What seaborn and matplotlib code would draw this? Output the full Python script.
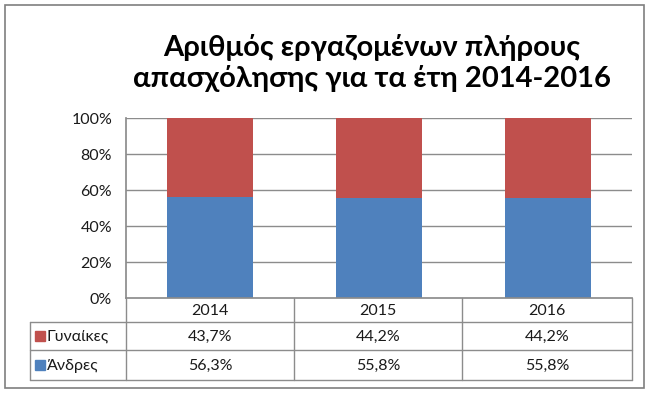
import matplotlib
matplotlib.use("Agg")
import matplotlib.pyplot as plt
import seaborn as sns
import pandas as pd
from matplotlib.lines import Line2D
from matplotlib.patches import Rectangle

years = ["2014", "2015", "2016"]
women = [43.7, 44.2, 44.2]
men = [56.3, 55.8, 55.8]
series_names = ["Γυναίκες", "Άνδρες"]
title = "Αριθμός εργαζομένων πλήρους\nαπασχόλησης για τα έτη 2014-2016"
yticks = [0, 20, 40, 60, 80, 100]

RED = "#C0504D"
BLUE = "#4F81BD"
GRID = "#8C8C8C"

sns.set_theme(style="white")
plt.rcParams['font.family'] = ['Lato', 'DejaVu Sans']

W, H = 656, 395
fig = plt.figure(figsize=(W / 100, H / 100), dpi=100)

def fx(x):
    return x / W

def fy(y):
    return 1 - y / H

L, R, T, B = 126, 632, 118, 298
ax = fig.add_axes([fx(L), fy(B), fx(R) - fx(L), fy(T) - fy(B)])

df = pd.DataFrame({"year": years, "men": men,
                   "total": [m + w for m, w in zip(men, women)]})
sns.barplot(data=df, x="year", y="total", color=RED, saturation=1,
            width=0.51, ax=ax, linewidth=0)
sns.barplot(data=df, x="year", y="men", color=BLUE, saturation=1,
            width=0.51, ax=ax, linewidth=0)

ax.set_ylim(0, 100)
ax.set_xlim(-0.5, 2.5)
ax.set_yticks(yticks)
ax.set_yticklabels([f"{v}%" for v in yticks], fontsize=11.5, color="#1a1a1a")
ax.set_xticks([])
ax.set_xlabel("")
ax.set_ylabel("")
for v in yticks[1:]:
    ax.axhline(v, color=GRID, lw=1, zorder=0)
ax.set_axisbelow(True)
for s in ["top", "right"]:
    ax.spines[s].set_visible(False)
ax.spines["left"].set_color(GRID)
ax.spines["bottom"].set_color(GRID)
ax.tick_params(axis="y", length=0, pad=10)

# Table
cols = [126, 294, 462, 632]
rows = [298, 322, 350, 380]
left_edge = 30

def hline(y, x0, x1):
    fig.add_artist(Line2D([fx(x0), fx(x1)], [fy(y), fy(y)], color=GRID, lw=1))

def vline(x, y0, y1):
    fig.add_artist(Line2D([fx(x), fx(x)], [fy(y0), fy(y1)], color=GRID, lw=1))

hline(rows[1], left_edge, cols[-1])
hline(rows[2], left_edge, cols[-1])
hline(rows[3], left_edge, cols[-1])
for c in cols:
    vline(c, rows[0], rows[3])
vline(left_edge, rows[1], rows[3])

TS = 11.5
for i, yr in enumerate(years):
    cx = (cols[i] + cols[i + 1]) / 2
    fig.text(fx(cx), fy((rows[0] + rows[1]) / 2 + 1), yr, ha="center", va="center",
             fontsize=TS, color="#1a1a1a")
    fig.text(fx(cx), fy((rows[1] + rows[2]) / 2 + 1), f"{women[i]:.1f}%".replace(".", ","),
             ha="center", va="center", fontsize=TS, color="#1a1a1a")
    fig.text(fx(cx), fy((rows[2] + rows[3]) / 2 + 1), f"{men[i]:.1f}%".replace(".", ","),
             ha="center", va="center", fontsize=TS, color="#1a1a1a")

for (name, col, r0, r1) in [(series_names[0], RED, rows[1], rows[2]),
                            (series_names[1], BLUE, rows[2], rows[3])]:
    cy = (r0 + r1) / 2
    fig.add_artist(Rectangle((fx(35), fy(cy + 5)), fx(10), fy(0) - fy(10),
                             color=col, transform=fig.transFigure))
    fig.text(fx(47), fy(cy + 1), name, ha="left", va="center", fontsize=TS,
             color="#1a1a1a")

# Outer border
fig.add_artist(Rectangle((fx(5), fy(388)), fx(644) - fx(5), fy(5) - fy(388),
                         fill=False, edgecolor="#7F7F7F", lw=1.2,
                         transform=fig.transFigure))

fig.text(fx(372), fy(63), title, ha="center", va="center", fontsize=21,
         fontweight="bold", color="black", linespacing=1.2)

fig.savefig("out.png", dpi=100)
